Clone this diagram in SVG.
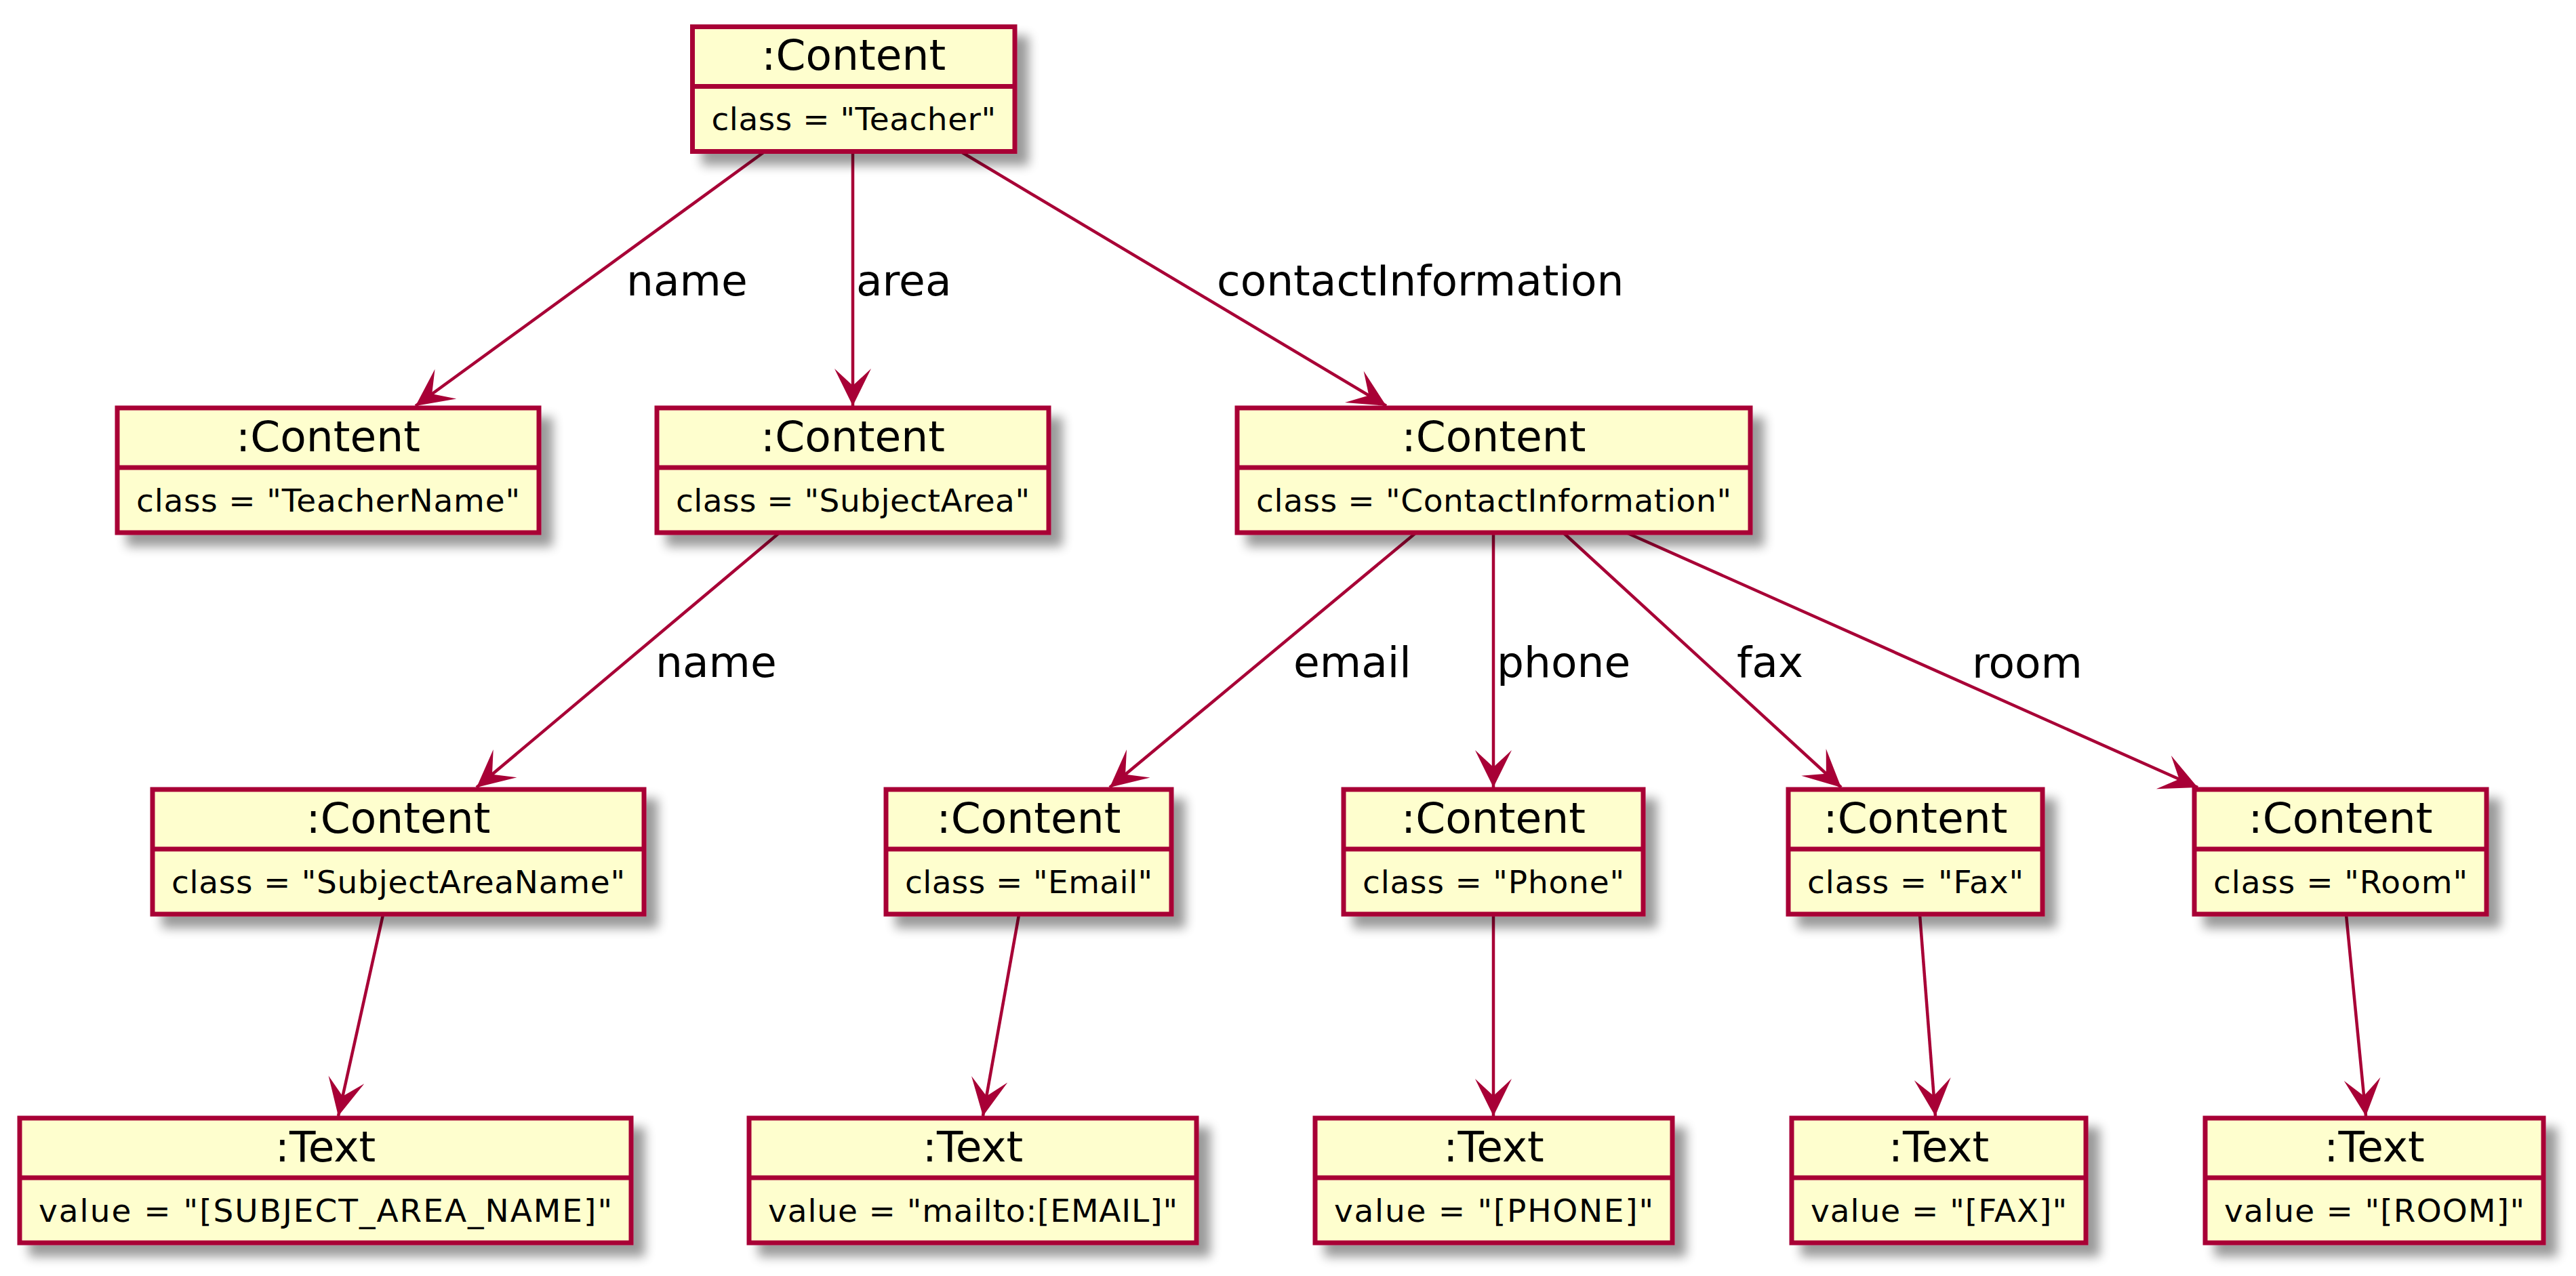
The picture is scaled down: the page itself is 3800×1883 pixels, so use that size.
<svg xmlns="http://www.w3.org/2000/svg" width="3800" height="1883" viewBox="0 0 3800 1883">
<defs>
<filter id="sh" x="-0.1" y="-0.2" width="1.3" height="1.6">
<feGaussianBlur in="SourceAlpha" stdDeviation="8" result="b"/>
<feOffset in="b" dx="17" dy="17" result="o"/>
<feComponentTransfer in="o" result="s"><feFuncA type="linear" slope="0.4"/></feComponentTransfer>
<feMerge><feMergeNode in="s"/><feMergeNode in="SourceGraphic"/></feMerge>
</filter>
<marker id="ah" markerUnits="userSpaceOnUse" markerWidth="70" markerHeight="70" viewBox="-60 -35 70 70" refX="0" refY="0" orient="auto">
<path d="M0,0 L-55,-27 L-30,0 L-55,27 Z" fill="#A80036"/>
</marker>
</defs>
<style>
.box{fill:#FEFECE;stroke:#A80036;stroke-width:7;filter:url(#sh)}
.sep{stroke:#A80036;stroke-width:7}
.nm{font-family:"DejaVu Sans",sans-serif;font-size:63px;fill:#000;text-anchor:middle}
.at{font-family:"DejaVu Sans",sans-serif;font-size:47px;fill:#000}
.lb{font-family:"DejaVu Sans",sans-serif;font-size:63px;fill:#000}
.ln{stroke:#A80036;stroke-width:4.5;fill:none;marker-end:url(#ah)}
</style>
<rect width="3800" height="1883" fill="#FFFFFF"/>
<g id="connectors">
<line class="ln" x1="1129" y1="223" x2="613" y2="599"/>
<line class="ln" x1="1258" y1="223" x2="1258" y2="599"/>
<line class="ln" x1="1416" y1="223" x2="2045" y2="599"/>
<line class="ln" x1="1150" y1="786" x2="703" y2="1162"/>
<line class="ln" x1="2089" y1="786" x2="1637" y2="1162"/>
<line class="ln" x1="2203" y1="786" x2="2203" y2="1162"/>
<line class="ln" x1="2306" y1="786" x2="2716" y2="1162"/>
<line class="ln" x1="2399" y1="786" x2="3242" y2="1162"/>
<line class="ln" x1="565" y1="1350" x2="499" y2="1647"/>
<line class="ln" x1="1503" y1="1350" x2="1450" y2="1647"/>
<line class="ln" x1="2203" y1="1350" x2="2203" y2="1647"/>
<line class="ln" x1="2832" y1="1350" x2="2855" y2="1647"/>
<line class="ln" x1="3461" y1="1350" x2="3490" y2="1647"/>
<text class="lb" x="924" y="436">name</text>
<text class="lb" x="1263" y="436">area</text>
<text class="lb" x="1795" y="436">contactInformation</text>
<text class="lb" x="967" y="999">name</text>
<text class="lb" x="1908" y="999">email</text>
<text class="lb" x="2208" y="999">phone</text>
<text class="lb" x="2562" y="999">fax</text>
<text class="lb" x="2909" y="1000">room</text>
</g>
<g id="n_teacher">
<rect class="box" x="1021.5" y="39.5" width="475.5" height="184"/>
<line class="sep" x1="1021.5" y1="127.5" x2="1497" y2="127.5"/>
<text class="nm" x="1259.25" y="103">:Content</text>
<text class="at" x="1049.5" y="192" textLength="419.5" lengthAdjust="spacing">class = "Teacher"</text>
</g>
<g id="n_teachername">
<rect class="box" x="173" y="602" width="622" height="184"/>
<line class="sep" x1="173" y1="690" x2="795" y2="690"/>
<text class="nm" x="484" y="665.5">:Content</text>
<text class="at" x="201" y="755" textLength="566" lengthAdjust="spacing">class = "TeacherName"</text>
</g>
<g id="n_subjectarea">
<rect class="box" x="969" y="602" width="578" height="184"/>
<line class="sep" x1="969" y1="690" x2="1547" y2="690"/>
<text class="nm" x="1258" y="665.5">:Content</text>
<text class="at" x="997" y="755" textLength="522" lengthAdjust="spacing">class = "SubjectArea"</text>
</g>
<g id="n_contactinfo">
<rect class="box" x="1825" y="602" width="757" height="184"/>
<line class="sep" x1="1825" y1="690" x2="2582" y2="690"/>
<text class="nm" x="2203.5" y="665.5">:Content</text>
<text class="at" x="1853" y="755" textLength="701" lengthAdjust="spacing">class = "ContactInformation"</text>
</g>
<g id="n_subjectareaname">
<rect class="box" x="225" y="1165" width="725" height="184"/>
<line class="sep" x1="225" y1="1253" x2="950" y2="1253"/>
<text class="nm" x="587.5" y="1228.5">:Content</text>
<text class="at" x="253" y="1318" textLength="669" lengthAdjust="spacing">class = "SubjectAreaName"</text>
</g>
<g id="n_email">
<rect class="box" x="1307" y="1165" width="421" height="184"/>
<line class="sep" x1="1307" y1="1253" x2="1728" y2="1253"/>
<text class="nm" x="1517.5" y="1228.5">:Content</text>
<text class="at" x="1335" y="1318" textLength="365" lengthAdjust="spacing">class = "Email"</text>
</g>
<g id="n_phone">
<rect class="box" x="1982" y="1165" width="442" height="184"/>
<line class="sep" x1="1982" y1="1253" x2="2424" y2="1253"/>
<text class="nm" x="2203" y="1228.5">:Content</text>
<text class="at" x="2010" y="1318" textLength="386" lengthAdjust="spacing">class = "Phone"</text>
</g>
<g id="n_fax">
<rect class="box" x="2638" y="1165" width="375" height="184"/>
<line class="sep" x1="2638" y1="1253" x2="3013" y2="1253"/>
<text class="nm" x="2825.5" y="1228.5">:Content</text>
<text class="at" x="2666" y="1318" textLength="319" lengthAdjust="spacing">class = "Fax"</text>
</g>
<g id="n_room">
<rect class="box" x="3237" y="1165" width="431" height="184"/>
<line class="sep" x1="3237" y1="1253" x2="3668" y2="1253"/>
<text class="nm" x="3452.5" y="1228.5">:Content</text>
<text class="at" x="3265" y="1318" textLength="375" lengthAdjust="spacing">class = "Room"</text>
</g>
<g id="t_subjectareaname">
<rect class="box" x="29" y="1650" width="902" height="184"/>
<line class="sep" x1="29" y1="1738" x2="931" y2="1738"/>
<text class="nm" x="480" y="1713.5">:Text</text>
<text class="at" x="57" y="1803" textLength="846" lengthAdjust="spacing">value = "[SUBJECT_AREA_NAME]"</text>
</g>
<g id="t_email">
<rect class="box" x="1105" y="1650" width="660" height="184"/>
<line class="sep" x1="1105" y1="1738" x2="1765" y2="1738"/>
<text class="nm" x="1435" y="1713.5">:Text</text>
<text class="at" x="1133" y="1803" textLength="604" lengthAdjust="spacing">value = "mailto:[EMAIL]"</text>
</g>
<g id="t_phone">
<rect class="box" x="1940" y="1650" width="527" height="184"/>
<line class="sep" x1="1940" y1="1738" x2="2467" y2="1738"/>
<text class="nm" x="2203.5" y="1713.5">:Text</text>
<text class="at" x="1968" y="1803" textLength="471" lengthAdjust="spacing">value = "[PHONE]"</text>
</g>
<g id="t_fax">
<rect class="box" x="2643" y="1650" width="434" height="184"/>
<line class="sep" x1="2643" y1="1738" x2="3077" y2="1738"/>
<text class="nm" x="2860" y="1713.5">:Text</text>
<text class="at" x="2671" y="1803" textLength="378" lengthAdjust="spacing">value = "[FAX]"</text>
</g>
<g id="t_room">
<rect class="box" x="3253" y="1650" width="499" height="184"/>
<line class="sep" x1="3253" y1="1738" x2="3752" y2="1738"/>
<text class="nm" x="3502.5" y="1713.5">:Text</text>
<text class="at" x="3281" y="1803" textLength="443" lengthAdjust="spacing">value = "[ROOM]"</text>
</g>
</svg>
